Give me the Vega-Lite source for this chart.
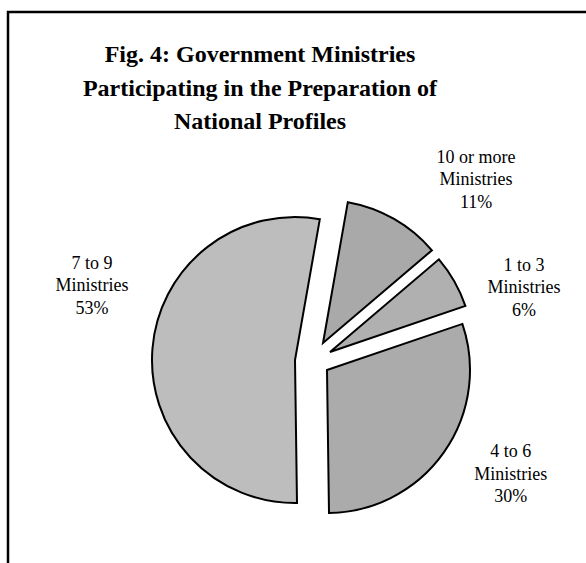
{
  "$schema": "https://vega.github.io/schema/vega-lite/v6.json",
  "width": 578,
  "height": 551,
  "autosize": "none",
  "padding": {"left": 8, "top": 12, "right": 0, "bottom": 0},
  "background": "white",
  "view": {"stroke": "black", "strokeWidth": 2.5, "strokeDash": [1129, 1129], "strokeDashOffset": 551},
  "title": {
    "text": ["Fig. 4: Government Ministries", "Participating in the Preparation of", "National Profiles"],
    "font": "Liberation Serif",
    "fontSize": 24,
    "fontWeight": "bold",
    "color": "black",
    "lineHeight": 33.5,
    "anchor": "middle",
    "frame": "group",
    "baseline": "top",
    "offset": -122,
    "dx": -37
  },
  "data": {
    "values": [
      {"cat": "10  or more", "value": 11},
      {"cat": "1 to 3", "value": 6},
      {"cat": "4 to 6", "value": 30},
      {"cat": "7 to 9", "value": 53}
    ]
  },
  "transform": [
    {"stack": "value", "groupby": [], "as": ["v0", "v1"]},
    {"calculate": "[datum.cat, 'Ministries', datum.value + '%']", "as": "label"}
  ],
  "encoding": {
    "theta": {"field": "v0", "type": "quantitative", "scale": {"domain": [0, 100], "range": [0.1745, 6.4577]}}
  },
  "layer": [
    {
      "transform": [{"filter": "datum.cat === '10  or more'"}],
      "mark": {"type": "arc", "outerRadius": 143, "xOffset": 26, "yOffset": 55.5, "fill": "#a9a9a9", "stroke": "black", "strokeWidth": 2},
      "encoding": {"theta2": {"field": "v1"}}
    },
    {
      "transform": [{"filter": "datum.cat === '1 to 3'"}],
      "mark": {"type": "arc", "outerRadius": 143, "xOffset": 33, "yOffset": 64.5, "fill": "#b0b0b0", "stroke": "black", "strokeWidth": 2},
      "encoding": {"theta2": {"field": "v1"}}
    },
    {
      "transform": [{"filter": "datum.cat === '4 to 6'"}],
      "mark": {"type": "arc", "outerRadius": 143, "xOffset": 30, "yOffset": 82.5, "fill": "#ababab", "stroke": "black", "strokeWidth": 2},
      "encoding": {"theta2": {"field": "v1"}}
    },
    {
      "transform": [{"filter": "datum.cat === '7 to 9'"}],
      "mark": {"type": "arc", "outerRadius": 143, "xOffset": -2, "yOffset": 72.5, "fill": "#bdbdbd", "stroke": "black", "strokeWidth": 2},
      "encoding": {"theta2": {"field": "v1"}}
    },
    {
      "transform": [{"filter": "datum.cat === '10  or more'"}],
      "mark": {"type": "text", "radius": 243.6, "thetaOffset": 0.559, "xOffset": 16, "yOffset": 51, "font": "Liberation Serif", "fontSize": 18, "lineHeight": 22.5, "align": "center", "baseline": "middle", "color": "black"},
      "encoding": {"text": {"field": "label"}}
    },
    {
      "transform": [{"filter": "datum.cat === '1 to 3'"}],
      "mark": {"type": "text", "radius": 223, "thetaOffset": 0.377, "xOffset": 16, "yOffset": 50, "font": "Liberation Serif", "fontSize": 18, "lineHeight": 22.5, "align": "center", "baseline": "middle", "color": "black"},
      "encoding": {"text": {"field": "label"}}
    },
    {
      "transform": [{"filter": "datum.cat === '4 to 6'"}],
      "mark": {"type": "text", "radius": 228.5, "thetaOffset": 0.853, "xOffset": 16, "yOffset": 50.5, "font": "Liberation Serif", "fontSize": 18, "lineHeight": 22.5, "align": "center", "baseline": "middle", "color": "black"},
      "encoding": {"text": {"field": "label"}}
    },
    {
      "transform": [{"filter": "datum.cat === '7 to 9'"}],
      "mark": {"type": "text", "radius": 234, "thetaOffset": 1.92, "xOffset": 16, "yOffset": 53, "font": "Liberation Serif", "fontSize": 18, "lineHeight": 22.5, "align": "center", "baseline": "middle", "color": "black"},
      "encoding": {"text": {"field": "label"}}
    }
  ]
}
